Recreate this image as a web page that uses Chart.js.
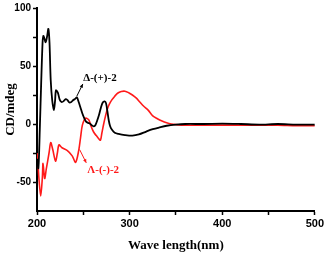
<!DOCTYPE html>
<html><head><meta charset="utf-8">
<script src="https://cdn.jsdelivr.net/npm/chart.js@4/dist/chart.umd.min.js"></script>
<style>html,body{margin:0;padding:0;background:#fff}#w{width:326px;height:253px}</style>
</head><body><div id="w"><canvas id="c"></canvas></div>
<script>
// Δ-(+)-2 (black)
const deltaWl = [200,201.5,203,204.5,206,206.8,207.5,209.4,211,212.3,213.5,214.8,216.5,218.3,219.5,220.5,222.5,224.5,226.5,228.5,231,233,235,237,239,241,243,245,247,249,251,253,255,257,259,261,263,265,267,269,271,273,274.5,276,277.5,279,281,284,288,295,303,310,318,325,332,340,350,360,380,400,420,440,460,480,500];
const deltaCD = [-30,-38,-5,35,70,76,75,70.5,76,82,70,38,20,12,20,29,27,21,19,19.5,21.5,20.5,18.5,19,20.5,21.5,23,19,14,9,5,2,1,0.5,-1,-2,-1,3,8,14,18.5,19.5,18,11,3,-2,-5,-7.5,-8.5,-9.5,-10,-9,-6.5,-4.5,-3,-1.5,-0.5,0,0,0.3,0,-0.5,0,-0.5,-0.5];
// Λ-(-)-2 (red)
const lambdaWl = [200,200.8,202,204,205.8,206.5,208.3,210,213,214.8,217,220,222,223.7,227,232.8,238,241.7,245,247,249,252.5,256,258,260,262,264,266,268.5,270,272,274,276,278,281,284,287,291,295,299,303,307,311,315,320,325,330,335,340,345,350,360,380,400,420,440,460,480,500];
const lambdaCD = [-25,-30,-46,-62,-46,-34,-47,-39,-25,-16,-22,-32,-25,-18,-20.5,-23,-27.5,-33,-23,-12,-1,5,3.5,-1,-5,-8,-10,-12,-14,-8,0,7,13,17,21,24,26.5,28,28.3,27,25,22.5,19,15.5,12,7,4.5,2.5,1,0,-0.5,-1,-1,-1,-1,-1,-1,-1.5,-1.5];
const xTickLabels = [200,300,400,500];
const yTickLabels = [100,50,0,-50];
const annotations = [
  {text:'Δ-(+)-2', color:'#000', tx:268, ty:39.5, ax1:243, ay1:24, ax2:249.5, ay2:34.5},
  {text:'Λ-(-)-2', color:'#ff1a1a', tx:271.5, ty:-40, ax1:246, ay1:-22, ax2:253.2, ay2:-33.5}
];

const toPts = (xs, ys) => xs.map((x,i)=>({x, y: ys[i]}));

const annoPlugin = {
  id:'anno',
  afterDatasetsDraw(chart){
    const {ctx, scales:{x,y}} = chart;
    ctx.save();
    annotations.forEach(a=>{
      const x1=x.getPixelForValue(a.ax1), y1=y.getPixelForValue(a.ay1);
      const x2=x.getPixelForValue(a.ax2), y2=y.getPixelForValue(a.ay2);
      ctx.strokeStyle=a.color; ctx.fillStyle=a.color; ctx.lineWidth=1;
      ctx.beginPath(); ctx.moveTo(x1,y1); ctx.lineTo(x2,y2); ctx.stroke();
      const ang=Math.atan2(y2-y1,x2-x1), L=4;
      ctx.beginPath(); ctx.moveTo(x2,y2);
      ctx.lineTo(x2-L*Math.cos(ang-0.45), y2-L*Math.sin(ang-0.45));
      ctx.lineTo(x2-L*Math.cos(ang+0.45), y2-L*Math.sin(ang+0.45));
      ctx.closePath(); ctx.fill();
      ctx.font='bold 11px "Liberation Serif", serif';
      ctx.textAlign='center'; ctx.textBaseline='middle';
      ctx.fillText(a.text, x.getPixelForValue(a.tx), y.getPixelForValue(a.ty));
    });
    ctx.restore();
  }
};

new Chart(document.getElementById('c'), {
  type:'line',
  data:{datasets:[
    {label:'Δ-(+)-2', data:toPts(deltaWl,deltaCD), borderColor:'#000', borderWidth:1.8, pointRadius:0, tension:0.3, fill:false},
    {label:'Λ-(-)-2', data:toPts(lambdaWl,lambdaCD), borderColor:'#ff1a1a', borderWidth:1.6, pointRadius:0, tension:0.3, fill:false}
  ]},
  options:{
    responsive:true, maintainAspectRatio:false, animation:false,
    layout:{padding:{top:5,right:10,left:0,bottom:0}},
    plugins:{legend:{display:false}, tooltip:{enabled:false}},
    scales:{
      x:{type:'linear', min:200, max:500,
        afterFit(s){s.height=42;},
        border:{display:true,color:'#000',width:2},
        grid:{drawOnChartArea:false, drawTicks:true, tickLength:4, tickColor:'#000', tickWidth:1.5},
        ticks:{stepSize:50, padding:2, color:'#000', font:{family:'"Liberation Sans", Arial, sans-serif', size:11, weight:'bold'},
          callback:(v)=> xTickLabels.includes(v) ? String(v) : ''},
        title:{display:true, text:'Wave length(nm)', color:'#000', padding:{top:2,bottom:0},
          font:{family:'"Liberation Serif", serif', size:13, weight:'bold'}}
      },
      y:{type:'linear', min:-75, max:100,
        afterFit(s){s.width=37;},
        border:{display:true,color:'#000',width:2},
        grid:{drawOnChartArea:false, drawTicks:true, tickLength:4, tickWidth:1.5,
          tickColor:(c)=> c.tick && c.tick.value===-75 ? 'rgba(0,0,0,0)' : '#000'},
        ticks:{stepSize:25, padding:2, color:'#000', font:{family:'"Liberation Sans", Arial, sans-serif', size:10, weight:'bold'},
          callback:(v)=> yTickLabels.includes(v) ? String(v) : ''},
        title:{display:true, text:'CD/mdeg', color:'#000', padding:{top:3,bottom:0},
          font:{family:'"Liberation Serif", serif', size:13, weight:'bold'}}
      }
    }
  },
  plugins:[annoPlugin]
});
</script>
</body></html>
